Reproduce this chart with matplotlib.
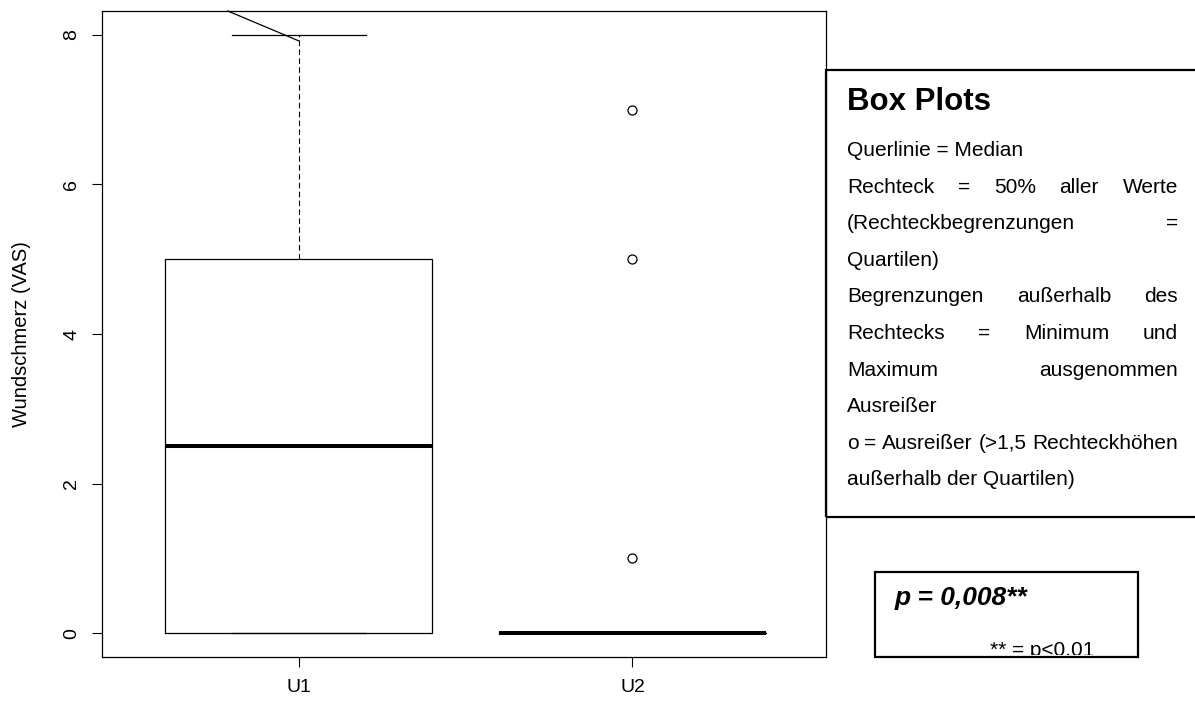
import matplotlib
matplotlib.use("Agg")
import matplotlib.pyplot as plt
from matplotlib.patches import Rectangle

plt.rcParams['font.family'] = ['Liberation Sans', 'DejaVu Sans']

# Daten (Fünf-Punkte-Zusammenfassung je Gruppe)
groups = ['U1', 'U2']
q_min = [0, 0]
q1 = [0, 0]
median = [2.5, 0]
q3 = [5, 0]
q_max = [8, 0]
outliers = [[], [1, 5, 7]]
y_ticks = [0, 2, 4, 6, 8]

# Streulinie oben links (im Original vorhanden)
stray_x = [0.787, 1.0]
stray_y = [8.32, 7.92]

legend_title = 'Box Plots'
legend_lines = [
    ('Querlinie = Median', False),
    ('Rechteck = 50% aller Werte', True),
    ('(Rechteckbegrenzungen =', True),
    ('Quartilen)', False),
    ('Begrenzungen außerhalb des', True),
    ('Rechtecks = Minimum und', True),
    ('Maximum ausgenommen', True),
    ('Ausreißer', False),
    ('o = Ausreißer (>1,5 Rechteckhöhen', True),
    ('außerhalb der Quartilen)', False),
]
p_text = 'p = 0,008**'
p_note = '** = p<0.01'

W, H = 1195, 709
fig = plt.figure(figsize=(W / 100, H / 100), dpi=100)
ax = fig.add_axes([102 / W, 52 / H, 724 / W, 646 / H])

stats = []
for i, g in enumerate(groups):
    stats.append(dict(label=g, whislo=q_min[i], q1=q1[i], med=median[i],
                      q3=q3[i], whishi=q_max[i], fliers=outliers[i]))

ax.bxp(stats, positions=[1, 2], widths=0.8, showfliers=True,
       boxprops=dict(color='black', linewidth=0.9),
       medianprops=dict(color='black', linewidth=2.9, solid_capstyle='butt'),
       whiskerprops=dict(color='black', linewidth=0.8, linestyle=(0, (5, 3))),
       capprops=dict(color='black', linewidth=0.9),
       capwidths=0.4,
       flierprops=dict(marker='o', markersize=6.5, markerfacecolor='none',
                       markeredgecolor='black', markeredgewidth=0.9))

ax.plot(stray_x, stray_y, color='black', linewidth=0.9, clip_on=False)

ax.set_xlim(0.41, 2.58)
ax.set_ylim(-0.32, 8.32)
ax.set_yticks(y_ticks)
ax.set_yticklabels([str(t) for t in y_ticks], rotation=90, va='center')
ax.set_xticks([1, 2])
ax.set_xticklabels(groups)
ax.tick_params(axis='both', labelsize=14, length=7.5, width=0.8, direction='out')
ax.tick_params(axis='y', pad=8)
ax.tick_params(axis='x', pad=8)
for s in ax.spines.values():
    s.set_linewidth(0.9)

fig.text(22 / W, 1 - 334 / H, 'Wundschmerz (VAS)', rotation=90,
         ha='center', va='center', fontsize=14.5)

# Legenden-Kasten rechts
fig.patches.append(Rectangle((826 / W, 1 - 517 / H), 400 / W, (517 - 70) / H,
                             transform=fig.transFigure, fill=False,
                             edgecolor='black', linewidth=1.6, clip_on=False))
fig.text(847 / W, 1 - 110 / H, legend_title, fontsize=22.5, fontweight='bold',
         ha='left', va='baseline')

fig.canvas.draw()
r = fig.canvas.get_renderer()
x0, x1 = 847, 1178
base0, step = 156, 36.6
for i, (line, just) in enumerate(legend_lines):
    yb = 1 - (base0 + i * step) / H
    if not just:
        fig.text(x0 / W, yb, line, fontsize=15, ha='left', va='baseline')
        continue
    words = line.split(' ')
    ts = [fig.text(0, yb, w, fontsize=15, ha='left', va='baseline') for w in words]
    widths = [t.get_window_extent(r).width for t in ts]
    gap = (x1 - x0 - sum(widths)) / (len(words) - 1)
    x = x0
    for t, w in zip(ts, widths):
        t.set_position((x / W, yb))
        x += w + gap

# p-Wert Kasten
p_box = Rectangle((875 / W, 1 - 657 / H), (1138 - 875) / W, (657 - 572) / H,
                  transform=fig.transFigure, fill=False, edgecolor='black',
                  linewidth=1.6)
fig.patches.append(p_box)
fig.text(895 / W, 1 - 605 / H, p_text, fontsize=19, fontweight='bold',
         fontstyle='italic', ha='left', va='baseline')
note = fig.text(990 / W, 1 - 656 / H, p_note, fontsize=15, ha='left', va='baseline')
clip_rect = Rectangle((875 / W, 1 - 655 / H), (1138 - 875) / W, (655 - 572) / H,
                      transform=fig.transFigure, visible=False)
note.set_clip_path(clip_rect)

fig.savefig('out.png', dpi=100)
